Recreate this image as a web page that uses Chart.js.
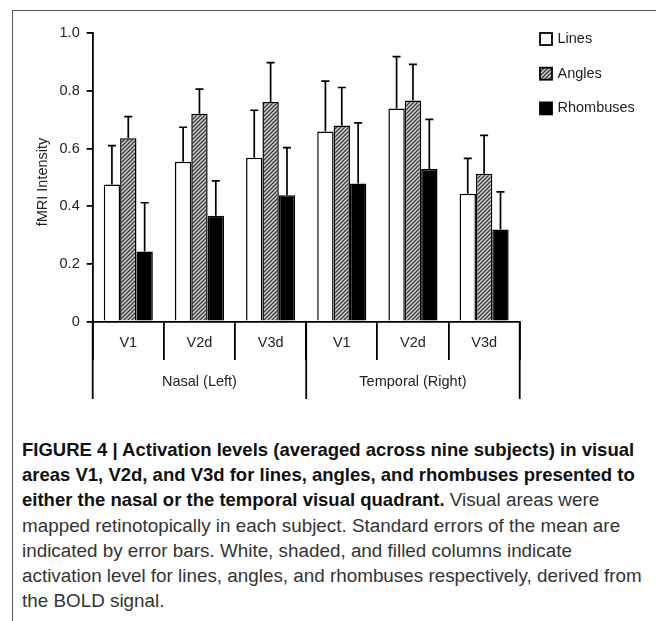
<!DOCTYPE html>
<html>
<head>
<meta charset="utf-8">
<script src="https://cdn.jsdelivr.net/npm/chart.js@4.4.1/dist/chart.umd.min.js"></script>
<style>
body { margin: 0; background: #fff; width: 656px; height: 621px; overflow: hidden; position: relative; font-family: "Liberation Sans", Arial, sans-serif; }
#frame { position: absolute; left: 12px; top: 10px; width: 660px; height: 620px; border-left: 1px solid #555; border-top: 1px solid #555; }
#chart { position: absolute; left: 0; top: 0; }
#caption { position: absolute; left: 22px; top: 437px; line-height: 25.2px; white-space: nowrap; color: #333; font-size: 18.85px; }
#caption b { color: #111; font-size: 18.5px; }
</style>
</head>
<body>
<div id="frame"></div>
<canvas id="chart" width="656" height="420"></canvas>
<div id="caption"><b>FIGURE 4 | Activation levels (averaged across nine subjects) in visual</b><br><b>areas V1, V2d, and V3d for lines, angles, and rhombuses presented to</b><br><b>either the nasal or the temporal visual quadrant.</b> Visual areas were<br>mapped retinotopically in each subject. Standard errors of the mean are<br>indicated by error bars. White, shaded, and filled columns indicate<br>activation level for lines, angles, and rhombuses respectively, derived from<br>the BOLD signal.</div>
<script>
var areas = ['V1', 'V2d', 'V3d'];
var groups = ['Nasal (Left)', 'Temporal (Right)'];
var yTicks = ['0', '0.2', '0.4', '0.6', '0.8', '1.0'];

// mean activation, then standard error (upper whisker only)
var lines = [0.475, 0.554, 0.568, 0.659, 0.739, 0.443];
var linesErr = [0.135, 0.120, 0.165, 0.175, 0.180, 0.123];
var angles = [0.636, 0.721, 0.762, 0.680, 0.767, 0.513];
var anglesErr = [0.075, 0.085, 0.136, 0.132, 0.125, 0.133];
var rhombuses = [0.243, 0.367, 0.438, 0.479, 0.529, 0.319];
var rhombusesErr = [0.169, 0.121, 0.165, 0.210, 0.172, 0.131];

var categories = [];
groups.forEach(function() {
    areas.forEach(function(a) { categories.push(a); });
});

function hatch() {
    var c = document.createElement('canvas');
    c.width = 4; c.height = 4;
    var g = c.getContext('2d');
    g.fillStyle = '#d0d0d0';
    g.fillRect(0, 0, 4, 4);
    g.strokeStyle = '#3a3a3a';
    g.lineWidth = 1.3;
    g.beginPath();
    g.moveTo(-1, 5); g.lineTo(5, -1);
    g.moveTo(-1, 1); g.lineTo(1, -1);
    g.moveTo(3, 5); g.lineTo(5, 3);
    g.stroke();
    return g.createPattern(c, 'repeat');
}

var FONT = '"Liberation Sans", Arial, sans-serif';

var errorBars = {
    id: 'errorBars',
    afterDatasetsDraw: function(chart) {
        var ctx = chart.ctx, y = chart.scales.y;
        ctx.save();
        ctx.strokeStyle = '#000';
        ctx.lineWidth = 1.7;
        chart.data.datasets.forEach(function(ds, i) {
            chart.getDatasetMeta(i).data.forEach(function(bar, j) {
                var top = y.getPixelForValue(ds.data[j] + ds.errors[j]);
                ctx.beginPath();
                ctx.moveTo(bar.x, bar.y);
                ctx.lineTo(bar.x, top);
                ctx.moveTo(bar.x - 4, top);
                ctx.lineTo(bar.x + 4, top);
                ctx.stroke();
            });
        });
        ctx.restore();
    }
};

var extras = {
    id: 'extras',
    afterDraw: function(chart) {
        var ctx = chart.ctx, x = chart.scales.x, a = chart.chartArea;
        var n = areas.length;
        ctx.save();
        // group dividers
        ctx.strokeStyle = '#000';
        ctx.lineWidth = 1.8;
        for (var g = 0; g <= groups.length; g++) {
            var px;
            if (g == 0) px = a.left;
            else if (g == groups.length) px = a.right;
            else px = (x.getPixelForValue(g * n - 1) + x.getPixelForValue(g * n)) / 2;
            ctx.beginPath();
            ctx.moveTo(px, a.bottom);
            ctx.lineTo(px, a.bottom + 77.5);
            ctx.stroke();
        }
        ctx.fillStyle = '#222';
        ctx.font = '14.5px ' + FONT;
        ctx.textAlign = 'center';
        ctx.textBaseline = 'middle';
        groups.forEach(function(name, g) {
            var cx = (x.getPixelForValue(g * n) + x.getPixelForValue(g * n + n - 1)) / 2;
            ctx.fillText(name, cx, a.bottom + 60.5);
        });

        // y title
        ctx.save();
        ctx.translate(43, 182);
        ctx.rotate(-Math.PI / 2);
        ctx.font = '14.5px ' + FONT;
        ctx.fillText('fMRI Intensity', 0, 0);
        ctx.restore();

        // legend
        ctx.textAlign = 'left';
        chart.data.datasets.forEach(function(ds, i) {
            var cy = 39 + i * 34.7;
            ctx.fillStyle = ds.backgroundColor;
            ctx.fillRect(540, cy - 6, 12, 12);
            ctx.strokeStyle = '#000';
            ctx.lineWidth = 1.8;
            ctx.strokeRect(540, cy - 6, 12, 12);
            ctx.fillStyle = '#222';
            ctx.fillText(ds.label, 557.5, cy);
        });
        ctx.restore();
    }
};

var ctx = document.getElementById('chart').getContext('2d');
var chart = new Chart(ctx, {
    type: 'bar',
    data: {
        labels: categories,
        datasets: [
            { label: 'Lines', data: lines, errors: linesErr, backgroundColor: '#ffffff', borderColor: '#000', borderWidth: 1.5 },
            { label: 'Angles', data: angles, errors: anglesErr, backgroundColor: hatch(), borderColor: '#000', borderWidth: 1.5 },
            { label: 'Rhombuses', data: rhombuses, errors: rhombusesErr, backgroundColor: '#000000', borderColor: '#000', borderWidth: 1.5 }
        ]
    },
    options: {
        responsive: false,
        animation: false,
        layout: { padding: { top: 33.3, right: 136.3, left: 0, bottom: 0 } },
        plugins: { legend: { display: false }, tooltip: { enabled: false } },
        datasets: { bar: { categoryPercentage: 0.69, barPercentage: 1.0 } },
        scales: {
            x: {
                offset: true,
                grid: { offset: true, drawOnChartArea: false, color: '#000', lineWidth: 1.8, tickLength: 38.5 },
                border: { color: '#000', width: 1.8 },
                ticks: { color: '#222', font: { family: FONT, size: 14.5 }, padding: -25.7, maxRotation: 0, autoSkip: false },
                afterFit: function(s) { s.height = 98.5; }
            },
            y: {
                min: 0,
                max: 1,
                grid: { drawOnChartArea: false, color: '#000', lineWidth: 1.8, tickLength: 6 },
                border: { color: '#000', width: 1.8 },
                ticks: {
                    stepSize: 0.2,
                    color: '#222',
                    padding: 7,
                    font: { family: FONT, size: 14.5 },
                    callback: function(v, i) { return yTicks[i]; }
                },
                afterFit: function(s) { s.width = 92.7; }
            }
        }
    },
    plugins: [errorBars, extras]
});
</script>
</body>
</html>
